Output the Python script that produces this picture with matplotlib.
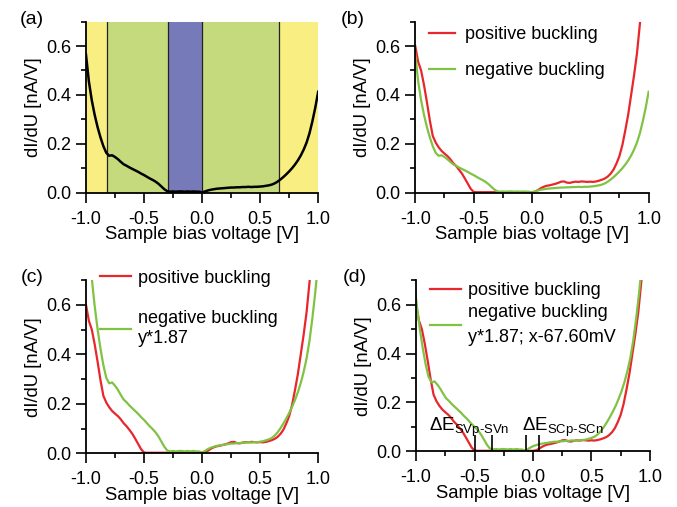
import numpy as np
import matplotlib
matplotlib.use("Agg")
import matplotlib.pyplot as plt
from matplotlib.ticker import MultipleLocator, FormatStrFormatter

plt.rcParams['font.family'] = ['Liberation Sans', 'DejaVu Sans']
plt.rcParams['axes.unicode_minus'] = False
plt.rcParams['mathtext.fontset'] = 'custom'
plt.rcParams['mathtext.rm'] = 'Liberation Sans'
plt.rcParams['mathtext.it'] = 'Liberation Sans:italic'

# ---- data ----
bias = np.linspace(-1.0, 1.0, 81)  # V

neg_raw = [0.565, 0.455, 0.378, 0.318, 0.268, 0.226, 0.190, 0.163, 0.151, 0.153,
           0.146, 0.137, 0.126, 0.116, 0.110, 0.103, 0.097, 0.091, 0.085, 0.078,
           0.072, 0.065, 0.058, 0.052, 0.045, 0.036, 0.025, 0.014, 0.006, 0.004,
           0.005, 0.004, 0.005, 0.005, 0.004, 0.005, 0.004, 0.005, 0.004, 0.004,
           0.001, 0.005, 0.009, 0.012, 0.014, 0.016, 0.017, 0.018, 0.019, 0.020,
           0.021, 0.021, 0.022, 0.022, 0.023, 0.023, 0.024, 0.023, 0.024, 0.024,
           0.025, 0.026, 0.028, 0.030, 0.033, 0.038, 0.045, 0.054, 0.064, 0.075,
           0.087, 0.100, 0.115, 0.132, 0.152, 0.176, 0.205, 0.243, 0.292, 0.348,
           0.413]

pos_raw = [0.600, 0.535, 0.500, 0.440, 0.370, 0.295, 0.232, 0.205, 0.186, 0.171,
           0.160, 0.150, 0.137, 0.121, 0.109, 0.094, 0.078, 0.058, 0.037, 0.016,
           0.003, 0.002, 0.002, 0.002, 0.002, 0.002, 0.002, 0.002, 0.002, 0.002,
           0.002, 0.002, 0.002, 0.002, 0.002, 0.002, 0.002, 0.002, 0.002, 0.002,
           0.002, 0.004, 0.010, 0.018, 0.024, 0.028, 0.030, 0.033, 0.036, 0.040,
           0.045, 0.046, 0.041, 0.040, 0.043, 0.045, 0.044, 0.046, 0.045, 0.044,
           0.045, 0.044, 0.046, 0.049, 0.053, 0.058, 0.066, 0.078, 0.095, 0.120,
           0.150, 0.195, 0.255, 0.320, 0.400, 0.480, 0.570, 0.690, 0.820, 0.960,
           1.100]

y_scale = 1.87          # scale factor applied to negative buckling
x_shift = -0.0676       # V, shift applied in (d)

region_bounds = [-1.0, -0.82, -0.29, 0.0, 0.66, 1.0]
region_colors = ['#F9EE82', '#C5DA7C', '#777AB8', '#C5DA7C', '#F9EE82']

sv_marks = [-0.50, -0.35]
sc_marks = [-0.06, 0.05]
mark_height = 0.065

x_ticks = [-1.0, -0.5, 0.0, 0.5, 1.0]
y_ticks = [0.0, 0.2, 0.4, 0.6]

RED = '#E8262B'
GREEN = '#80C244'
FS = 13

neg_raw = np.array(neg_raw)
pos_raw = np.array(pos_raw)

fig = plt.figure(figsize=(6.77, 5.07), dpi=100)

positions = {
    'a': [0.127, 0.620, 0.343, 0.3374],
    'b': [0.6134, 0.620, 0.3447, 0.3374],
    'c': [0.127, 0.106, 0.343, 0.3417],
    'd': [0.6145, 0.1098, 0.3456, 0.3375],
}
axes = {}
for k, pos in positions.items():
    ax = fig.add_axes(pos)
    axes[k] = ax
    ax.set_xlim(-1.0, 1.0)
    ax.set_ylim(0.0, 0.7)
    for s in ['top', 'right']:
        ax.spines[s].set_visible(False)
    for s in ['left', 'bottom']:
        ax.spines[s].set_linewidth(1.3)
    ax.set_xticks(x_ticks)
    ax.set_yticks(y_ticks)
    ax.xaxis.set_minor_locator(MultipleLocator(0.25))
    ax.yaxis.set_minor_locator(MultipleLocator(0.1))
    ax.xaxis.set_major_formatter(FormatStrFormatter('%.1f'))
    ax.yaxis.set_major_formatter(FormatStrFormatter('%.1f'))
    ax.tick_params(which='both', direction='out', width=1.2, labelsize=FS)
    ax.tick_params(which='major', length=7)
    ax.tick_params(which='minor', length=3.6)
    ax.tick_params(axis='x', which='major', pad=6)
    ax.tick_params(axis='y', which='major', pad=3.5)
    ax.set_xlabel('Sample bias voltage [V]', fontsize=13.3, labelpad=-1)
    ax.set_ylabel('dI/dU [nA/V]', fontsize=13.3, labelpad=3)

# (a)
ax = axes['a']
for i, c in enumerate(region_colors):
    ax.axvspan(region_bounds[i], region_bounds[i + 1], color=c, lw=0, zorder=0)
for b in region_bounds[1:-1]:
    ax.axvline(b, color='#222222', lw=0.9, zorder=1)
ax.plot(bias, neg_raw, color='black', lw=1.8, zorder=3)

# (b)
ax = axes['b']
ax.plot(bias, pos_raw, color=RED, lw=1.6, label='positive buckling')
ax.plot(bias, neg_raw, color=GREEN, lw=1.6, label='negative buckling')
ax.legend(loc='upper left', bbox_to_anchor=(0.06, 0.975), frameon=False,
          fontsize=FS, handlelength=1.45, handletextpad=0.55, labelspacing=1.05,
          borderpad=0, borderaxespad=0)

# (c)
ax = axes['c']
ax.plot(bias, pos_raw, color=RED, lw=1.6, label='positive buckling')
ax.plot(bias, neg_raw * y_scale, color=GREEN, lw=1.6,
        label='negative buckling\ny*1.87')
leg = ax.legend(loc='upper left', bbox_to_anchor=(0.06, 1.06), frameon=False,
                fontsize=FS, handlelength=1.7, handletextpad=0.4, labelspacing=1.3,
                borderpad=0, borderaxespad=0)
leg.get_texts()[1].set_linespacing(1.24)

# (d)
ax = axes['d']
ax.plot(bias, pos_raw, color=RED, lw=1.6, label='positive buckling')
ax.plot(bias + x_shift, neg_raw * y_scale, color=GREEN, lw=1.6,
        label='negative buckling\ny*1.87; x-67.60mV')
leg = ax.legend(loc='upper left', bbox_to_anchor=(0.06, 0.99), frameon=False,
                fontsize=FS, handlelength=1.7, handletextpad=0.4, labelspacing=0.3,
                borderpad=0, borderaxespad=0)
leg.get_texts()[1].set_linespacing(1.6)
ax.vlines(sv_marks + sc_marks, 0, mark_height, color='black', lw=1.2, zorder=4)
ax.text(-0.89, 0.082, '$\\Delta\\mathrm{E}_{\\mathrm{SVp\u2010SVn}}$', fontsize=13.5,
        ha='left', va='baseline')
ax.text(-0.09, 0.082, '$\\Delta\\mathrm{E}_{\\mathrm{SCp\u2010SCn}}$', fontsize=13.5,
        ha='left', va='baseline')

# panel labels
for lab, (px, py) in {'(a)': (20, 19), '(b)': (341, 19),
                      '(c)': (21, 278), '(d)': (343, 278)}.items():
    fig.text(px / 677, 1 - py / 507, lab, fontsize=14, ha='left', va='center')

fig.savefig('out.png', dpi=100)
